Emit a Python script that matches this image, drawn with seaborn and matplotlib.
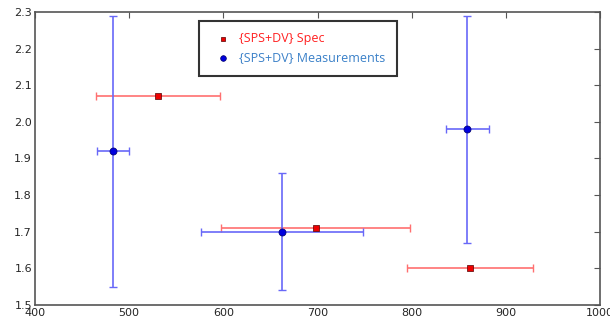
import matplotlib
matplotlib.use("Agg")
import matplotlib.pyplot as plt
import seaborn as sns
import pandas as pd

spec_x = [531, 698, 862]
spec_y = [2.07, 1.71, 1.60]
spec_xerr = [66, 100, 67]

meas_x = [483, 662, 859]
meas_y = [1.92, 1.70, 1.98]
meas_xerr = [17, 86, 23]
meas_yerr = [0.37, 0.16, 0.31]

xticks = [400, 500, 600, 700, 800, 900, 1000]
yticks = [1.5, 1.6, 1.7, 1.8, 1.9, 2.0, 2.1, 2.2, 2.3]

sns.set_style("white")
plt.rcParams['font.family'] = ['DejaVu Sans']

fig = plt.figure(figsize=(6.1, 3.21), dpi=100)
ax = fig.add_axes([0.057, 0.05, 0.927, 0.913])

spec = pd.DataFrame({"x": spec_x, "y": spec_y})
meas = pd.DataFrame({"x": meas_x, "y": meas_y})

ax.errorbar(spec_x, spec_y, xerr=spec_xerr, fmt='none', ecolor='#ff7070',
            elinewidth=1.2, capsize=3, capthick=1, zorder=2)
ax.errorbar(meas_x, meas_y, xerr=meas_xerr, yerr=meas_yerr, fmt='none', ecolor='#6868f8',
            elinewidth=1.2, capsize=3, capthick=1, zorder=2)

sns.scatterplot(data=spec, x="x", y="y", ax=ax, marker='s', color='#ee0000', s=20,
                edgecolor='#550000', linewidth=0.5, label='{SPS+DV} Spec', zorder=3)
sns.scatterplot(data=meas, x="x", y="y", ax=ax, marker='o', color='#0000dd', s=26,
                edgecolor='#000066', linewidth=0.5, label='{SPS+DV} Measurements', zorder=3)

ax.set_xlim(400, 1000)
ax.set_ylim(1.5, 2.3)
ax.set_xticks(xticks)
ax.set_xticklabels([str(t) for t in xticks])
ax.set_yticks(yticks)
ax.set_yticklabels([f"{t:.1f}" for t in yticks])
ax.set_xlabel("")
ax.set_ylabel("")
ax.tick_params(direction='in', length=4, width=0.8, labelsize=8, top=True, right=True,
               color='#555555', pad=2)
for s in ax.spines.values():
    s.set_color('#555555')
    s.set_linewidth(1.2)

leg = ax.legend(loc='upper left', bbox_to_anchor=(0.28, 0.99), frameon=True,
                fancybox=False, handletextpad=0.3, borderpad=0.9, markerscale=0.8,
                prop={'family': 'Open Sans', 'size': 9})
leg.get_frame().set_edgecolor('black')
leg.get_frame().set_linewidth(1.5)
txt_colors = ['#ff2020', '#3a80c8']
for t, c in zip(leg.get_texts(), txt_colors):
    t.set_color(c)

fig.savefig("out.png", dpi=100)
